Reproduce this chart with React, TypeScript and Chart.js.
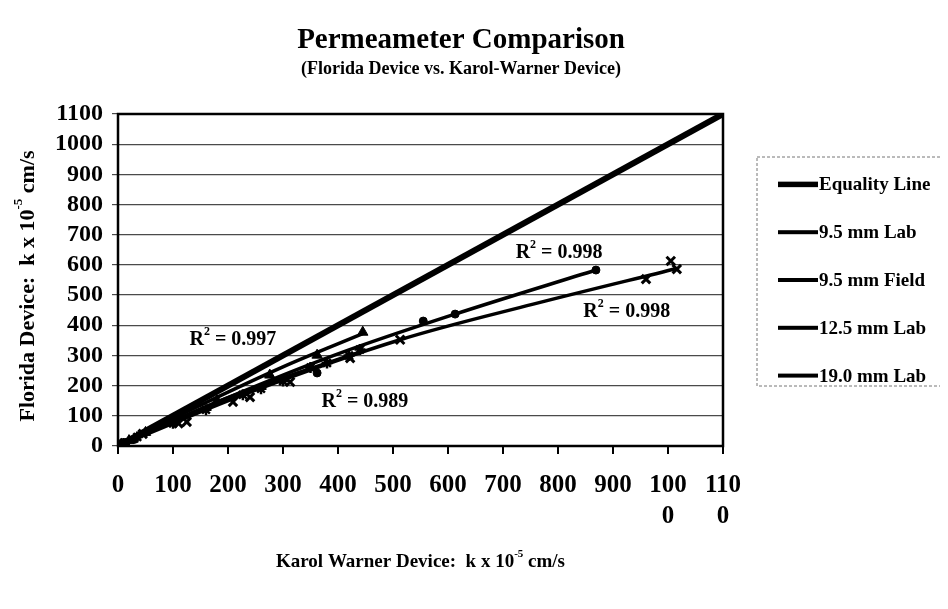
import React, { useEffect, useRef } from "react";
import { Chart, registerables } from "chart.js";

Chart.register(...registerables);

// ---------------- data ----------------
const equalityX = [0, 1100];
const equalityY = [0, 1100];

const lab95X = [2, 8, 15, 30, 362, 555, 613, 869];
const lab95Y = [2, 6, 12, 22, 242, 414, 437, 583];
const lab95TrendX = [0, 200, 400, 613, 869];
const lab95TrendY = [0, 160, 305, 437, 583];

const field95X = [3, 12, 45, 110, 125, 209, 240, 313, 422, 513, 960, 1005, 1016];
const field95Y = [2, 10, 40, 75, 80, 146, 162, 212, 291, 352, 553, 613, 586];
const field95TrendX = [0, 250, 513, 755, 1016];
const field95TrendY = [0, 185, 352, 470, 588];

const lab125X = [5, 20, 50, 90, 180, 276, 362, 445];
const lab125Y = [4, 18, 45, 80, 150, 235, 301, 377];
const lab125TrendX = [0, 150, 300, 445];
const lab125TrendY = [0, 135, 262, 372];

const lab190X = [10, 35, 100, 160, 227, 260, 300, 350, 380, 420, 440];
const lab190Y = [8, 30, 75, 120, 170, 190, 215, 260, 275, 300, 320];
const lab190TrendX = [0, 200, 440];
const lab190TrendY = [0, 160, 312];

const seriesNames = ["Equality Line", "9.5 mm Lab", "9.5 mm Field", "12.5 mm Lab", "19.0 mm Lab"];

const r2Values = ["0.998", "0.998", "0.997", "0.989"];
const r2X = [802, 925, 209, 449];
const r2Y = [639, 444, 351, 146];

const xTickValues = [0, 100, 200, 300, 400, 500, 600, 700, 800, 900, 1000, 1100];
const xTickLabels: (string | string[])[] = ["0", "100", "200", "300", "400", "500", "600", "700", "800", "900", ["100", "0"], ["110", "0"]];
const yTickValues = [0, 100, 200, 300, 400, 500, 600, 700, 800, 900, 1000, 1100];
const yTickLabels = ["0", "100", "200", "300", "400", "500", "600", "700", "800", "900", "1000", "1100"];

const titleText = "Permeameter Comparison";
const subtitleText = "(Florida Device vs. Karol-Warner Device)";
const xTitleParts = [{ t: "Karol Warner Device:  k x 10" }, { t: "-5", sup: true }, { t: " cm/s" }];
const yTitleParts = [{ t: "Florida Device:  k x 10" }, { t: "-5", sup: true }, { t: " cm/s" }];

// ---------------- helpers ----------------
const SERIF = "'Liberation Serif', 'Times New Roman', serif";

function pts(xs: number[], ys: number[]) {
  return xs.map((x, i) => ({ x, y: ys[i] }));
}

function drawParts(ctx: CanvasRenderingContext2D, parts: { t: string; sup?: boolean }[], size: number, cx: number, cy: number) {
  const main = `bold ${size}px ${SERIF}`;
  const small = `bold ${Math.round(size * 0.6)}px ${SERIF}`;
  let total = 0;
  const widths = parts.map((p) => {
    ctx.font = p.sup ? small : main;
    const w = ctx.measureText(p.t).width;
    total += w;
    return w;
  });
  let x = cx - total / 2;
  ctx.textBaseline = "middle";
  ctx.textAlign = "left";
  parts.forEach((p, i) => {
    ctx.font = p.sup ? small : main;
    ctx.fillText(p.t, x, p.sup ? cy - size * 0.42 : cy);
    x += widths[i];
  });
}

const decorPlugin = {
  id: "decor",
  afterDatasetsDraw(chart: any) {
    const { ctx, chartArea: a } = chart;
    ctx.save();
    ctx.strokeStyle = "#000";
    ctx.lineWidth = 2.5;
    ctx.strokeRect(a.left, a.top, a.right - a.left, a.bottom - a.top);
    ctx.restore();
  },
  afterDraw(chart: any) {
    const { ctx, chartArea: a, scales } = chart;
    const W = chart.width;
    ctx.save();
    ctx.fillStyle = "#000";
    // titles
    ctx.textAlign = "center";
    ctx.textBaseline = "middle";
    ctx.font = `bold 29px ${SERIF}`;
    ctx.fillText(titleText, 453, 33);
    ctx.font = `bold 18px ${SERIF}`;
    ctx.fillText(subtitleText, 453, 61);

    // axis titles
    drawParts(ctx, xTitleParts, 19, (a.left + a.right) / 2, 554);
    ctx.save();
    ctx.translate(20, 278);
    ctx.rotate(-Math.PI / 2);
    drawParts(ctx, yTitleParts, 22, 0, 0);
    ctx.restore();

    // R² labels
    r2Values.forEach((v, i) => {
      const px = scales.x.getPixelForValue(r2X[i]);
      const py = scales.y.getPixelForValue(r2Y[i]);
      drawParts(ctx, [{ t: "R" }, { t: "2", sup: true }, { t: " = " + v }], 20, px, py);
    });

    // legend
    const boxL = a.right + 34;
    const boxT = 149;
    const boxB = 378;
    ctx.save();
    ctx.strokeStyle = "#777";
    ctx.lineWidth = 1;
    ctx.setLineDash([3, 2]);
    ctx.strokeRect(boxL, boxT, W - boxL + 10, boxB - boxT);
    ctx.restore();
    const items = chart.data.datasets.filter((d: any) => d.inLegend);
    const step = 47.8;
    const y0 = (a.top + a.bottom) / 2 - (step * (items.length - 1)) / 2;
    items.forEach((d: any, i: number) => {
      const y = y0 + i * step;
      ctx.fillStyle = "#000";
      const lw = d.legendWidth;
      ctx.fillRect(boxL + 21, y - lw / 2, 40, lw);
      ctx.font = `bold 19px ${SERIF}`;
      ctx.textAlign = "left";
      ctx.textBaseline = "middle";
      ctx.fillText(d.label, boxL + 62, y + 1);
    });
    ctx.restore();
  },
};

// ---------------- component ----------------
export default function App() {
  const ref = useRef<HTMLCanvasElement | null>(null);

  useEffect(() => {
    if (!ref.current) return;
    const trend = (label: string, xs: number[], ys: number[]) => ({
      label,
      data: pts(xs, ys),
      showLine: true,
      borderColor: "#000",
      borderWidth: 3.5,
      pointRadius: 0,
      tension: 0.35,
      fill: false,
    });
    const marks = (label: string, xs: number[], ys: number[], style: string, r: number, bw: number) => ({
      label,
      data: pts(xs, ys),
      showLine: false,
      pointStyle: style,
      pointRadius: r,
      pointBackgroundColor: "#000",
      pointBorderColor: "#000",
      pointBorderWidth: bw,
      inLegend: true,
      legendWidth: 4,
    });

    const chart = new Chart(ref.current, {
      type: "scatter",
      data: {
        datasets: [
          {
            label: seriesNames[0],
            data: pts(equalityX, equalityY),
            showLine: true,
            borderColor: "#000",
            borderWidth: 6,
            pointRadius: 0,
            inLegend: true,
            legendWidth: 5.5,
          } as any,
          marks(seriesNames[1], lab95X, lab95Y, "circle", 4, 1),
          marks(seriesNames[2], field95X, field95Y, "crossRot", 6, 3),
          marks(seriesNames[3], lab125X, lab125Y, "triangle", 6, 1),
          marks(seriesNames[4], lab190X, lab190Y, "star", 5.5, 2.5),
          trend(seriesNames[1] + " trend", lab95TrendX, lab95TrendY),
          trend(seriesNames[2] + " trend", field95TrendX, field95TrendY),
          trend(seriesNames[3] + " trend", lab125TrendX, lab125TrendY),
          trend(seriesNames[4] + " trend", lab190TrendX, lab190TrendY),
        ],
      },
      options: {
        responsive: false,
        animation: false,
        layout: { padding: { top: 106, right: 217, left: 0, bottom: 0 } },
        plugins: {
          legend: { display: false },
          title: { display: false },
          tooltip: { enabled: false },
        },
        scales: {
          x: {
            type: "linear",
            min: 0,
            max: 1100,
            afterBuildTicks: (s: any) => {
              s.ticks = xTickValues.map((v) => ({ value: v }));
            },
            afterFit: (s: any) => {
              s.height = 152;
            },
            ticks: {
              autoSkip: false,
              maxRotation: 0,
              padding: 16,
              color: "#000",
              font: { family: SERIF, size: 25, weight: "bold", lineHeight: 1.25 },
              callback: (v: any) => {
                const i = xTickValues.indexOf(Number(v));
                return i >= 0 ? xTickLabels[i] : "";
              },
            },
            grid: { drawOnChartArea: false, drawTicks: true, tickLength: 8, color: "#000", lineWidth: 2 },
            border: { display: false },
          },
          y: {
            type: "linear",
            min: 0,
            max: 1100,
            afterBuildTicks: (s: any) => {
              s.ticks = yTickValues.map((v) => ({ value: v }));
            },
            afterFit: (s: any) => {
              s.width = 110;
            },
            ticks: {
              autoSkip: false,
              padding: 9,
              color: "#000",
              font: { family: SERIF, size: 24, weight: "bold" },
              callback: (v: any) => {
                const i = yTickValues.indexOf(Number(v));
                return i >= 0 ? yTickLabels[i] : "";
              },
            },
            grid: { color: "#4a4a4a", lineWidth: 1.2, tickLength: 6 },
            border: { display: false },
          },
        },
      } as any,
      plugins: [decorPlugin],
    });
    return () => chart.destroy();
  }, []);

  return (
    <div style={{ width: 932, height: 590 }}>
      <canvas ref={ref} width={932} height={590} style={{ display: "block" }} />
    </div>
  );
}
